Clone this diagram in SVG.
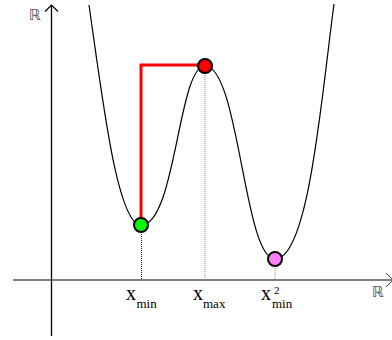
<svg xmlns="http://www.w3.org/2000/svg" width="392" height="340" viewBox="0 0 392 340">
<style>
.lbl{font-family:"Liberation Serif","Times New Roman",serif;fill:#000}
.big{font-size:20px}
.sub{font-size:13px}
.sup{font-size:11px}
.bb{font-family:"DejaVu Sans","Noto Sans",sans-serif;font-size:15px;fill:#555}
.dot{stroke:#000;stroke-width:2}
.drop{stroke-width:1;stroke-dasharray:1 1;fill:none}
</style>
<rect width="392" height="340" fill="#fff"/>
<g id="axes" fill="none">
  <line x1="13" y1="280" x2="392" y2="280" stroke="#808080" stroke-width="2"/>
  <polyline points="386,273 393,280 386,287" stroke="#444" stroke-width="1"/>
  <line x1="51.5" y1="336" x2="51.5" y2="5" stroke="#000" stroke-width="1.3"/>
  <polyline points="45,11.5 51.5,5 58,11.5" stroke="#000" stroke-width="1.2"/>
  <text class="bb" x="29" y="20">ℝ</text>
  <text class="bb" x="372" y="297">ℝ</text>
</g>
<g id="curve">
  <path d="M89,5 C102,95 117,225 141,225 C176,225 178,66 205,66 C239,66 244,259 275,259 C309,259 321.8,94 334,4" fill="none" stroke="#000" stroke-width="1.2"/>
</g>
<g id="connectors">
  <line class="drop" x1="141.5" y1="232" x2="141.5" y2="279" stroke="#222"/>
  <line class="drop" x1="205" y1="73" x2="205" y2="279" stroke="#888"/>
  <line class="drop" x1="275" y1="266" x2="275" y2="279" stroke="#888"/>
  <polyline points="141,225 141,65 205,65" fill="none" stroke="#ff0000" stroke-width="3"/>
</g>
<g id="p-min">
  <circle class="dot" cx="141" cy="225" r="7" fill="#00ff00"/>
</g>
<g id="p-max">
  <circle class="dot" cx="205" cy="66" r="7" fill="#ff0000"/>
</g>
<g id="p-min2">
  <circle class="dot" cx="275" cy="259" r="7" fill="#ff80ff"/>
</g>
<g id="label-xmin">
  <text class="lbl big" x="126" y="300">x</text>
  <text class="lbl sub" x="136.5" y="308">min</text>
</g>
<g id="label-xmax">
  <text class="lbl big" x="193" y="300">x</text>
  <text class="lbl sub" x="203" y="308">max</text>
</g>
<g id="label-xmin2">
  <text class="lbl big" x="261" y="300">x</text>
  <text class="lbl sup" x="274" y="294">2</text>
  <text class="lbl sub" x="272" y="308">min</text>
</g>
</svg>
